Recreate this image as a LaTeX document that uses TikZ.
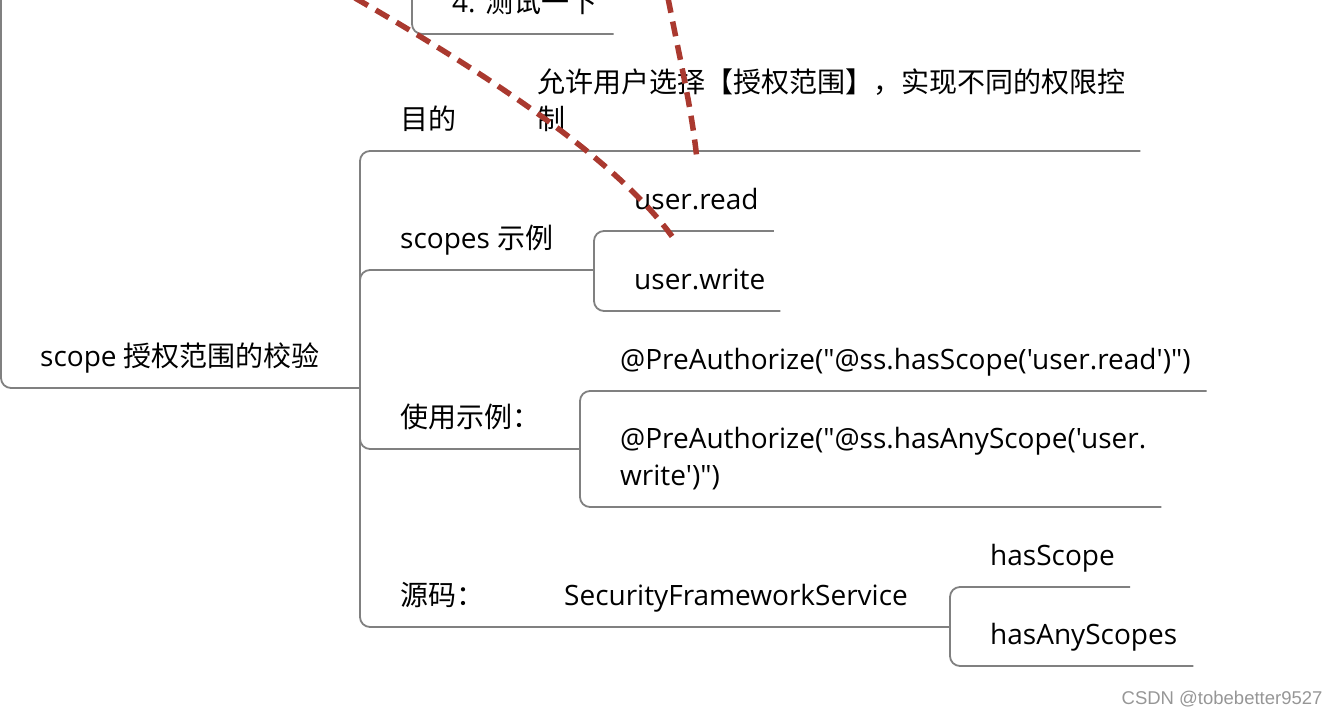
\documentclass[tikz,border=0pt]{standalone}
\usepackage{fontspec}
\setmainfont{Open Sans}[Ligatures=TeXOff]
\newfontfamily\cjk{Noto Sans CJK SC}
\newfontfamily\wmfont{Liberation Sans}
\usetikzlibrary{calc, positioning}

\definecolor{linegray}{RGB}{128,128,128}
\definecolor{markred}{RGB}{170,57,47}
\definecolor{wmgray}{RGB}{150,150,150}

\tikzset{
  topic/.style={anchor=south west, inner xsep=0pt, inner ysep=21pt, text depth=0pt, align=left},
  link/.style={draw=linegray, line width=1.8pt, rounded corners=10pt},
  scribble/.style={draw=markred, line width=5.5pt, dash pattern=on 15pt off 9pt},
}

\begin{document}
\begin{tikzpicture}[x=1pt, y=-1pt, font=\fontsize{28}{37}\selectfont]
\useasboundingbox (0,0) rectangle (1342,716);

% root and the topic above it
\coordinate (root-top) at (1,-10);
\coordinate (test-top) at (412,-10);
\coordinate (hub) at (360,388);
\node[topic] (root) at (40,388) {scope {\cjk 授权范围的校验}};
\node[topic] (test) at (452,34) {4. {\cjk 测试一下}};
\draw[link] (root-top) |- (hub);
\draw[link] (test-top) |- ([xshift=16pt]test.south east);

% children of the root
\node[topic] (purpose) at (400,151) {\cjk 目的};
\node[topic] (goal) at (537,151) {\cjk 允许用户选择【授权范围】，实现不同的权限控\\\cjk 制};
\node[topic] (scopes) at (400,270) {scopes {\cjk 示例}};
\node[topic] (usage) at (400,449) {\cjk 使用示例：};
\node[topic] (source) at (400,627) {\cjk 源码：};
\node[topic] (service) at (564,627) {SecurityFrameworkService};

\coordinate (scopes-fork) at (594,270);
\coordinate (usage-fork) at (580,449);
\coordinate (source-fork) at (950,627);

\draw[link] (hub) |- ([xshift=15pt]goal.south east);
\draw[link] (hub) |- (scopes-fork);
\draw[link] (hub) |- (usage-fork);
\draw[link] (hub) |- (source-fork);

% grandchildren
\node[topic] (read) at (634,231) {user.read};
\node[topic] (write) at (634,311) {user.write};
\node[topic] (pre-read) at (620,391) {@PreAuthorize("@ss.hasScope('user.read')")};
\node[topic] (pre-write) at (620,507) {@PreAuthorize("@ss.hasAnyScope('user.\\write')")};
\node[topic] (has-one) at (990,587) {hasScope};
\node[topic] (has-any) at (990,666) {hasAnyScopes};

\draw[link] (scopes-fork) |- ([xshift=15pt]read.south east);
\draw[link] (scopes-fork) |- ([xshift=15pt]write.south east);
\draw[link] (usage-fork) |- ([xshift=16pt]pre-read.south east);
\draw[link] (usage-fork) |- ([xshift=15pt]pre-write.south east);
\draw[link] (source-fork) |- ([xshift=15pt]has-one.south east);
\draw[link] (source-fork) |- ([xshift=16pt]has-any.south east);

% red marks drawn over the map
\draw[scribble] (355,-2) .. controls (480,70) and (620,160) .. (676,242);
\draw[scribble] (668,-2) .. controls (680,60) and (692,110) .. (697,160);

\node[anchor=base east, font=\wmfont\fontsize{18.5}{20}\selectfont, text=wmgray] (credit) at (1326,704) {CSDN @tobebetter9527};
\end{tikzpicture}
\end{document}
